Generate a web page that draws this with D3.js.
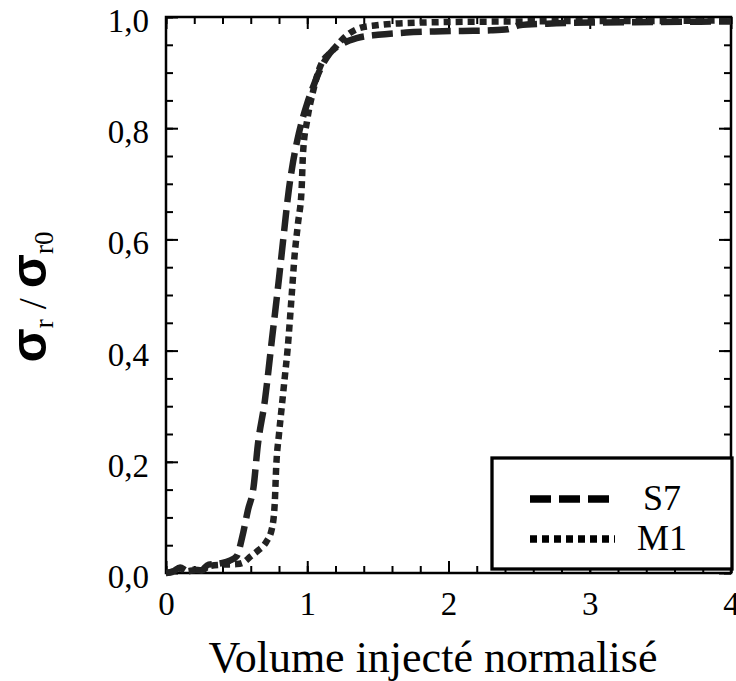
<!DOCTYPE html>
<html lang="fr">
<head>
<meta charset="utf-8">
<title>Volume injecté normalisé</title>
<script src="https://cdnjs.cloudflare.com/ajax/libs/d3/7.8.5/d3.min.js"></script>
<style>
  body { margin: 0; background: #fff; }
  svg text { font-family: "Liberation Serif", "Times New Roman", serif; fill: #000; }
  .axis path { display: none; }
  .axis line { stroke: #000; stroke-width: 2; }
</style>
</head>
<body>
<div id="chart"></div>
<script>
// values
var s7X = [0, 0.05, 0.1, 0.15, 0.2, 0.25, 0.3, 0.35, 0.4, 0.45, 0.5, 0.54, 0.58, 0.62, 0.65, 0.7, 0.75, 0.8, 0.83, 0.87, 0.9, 0.94, 0.97, 1.0, 1.05, 1.1, 1.16, 1.25, 1.35, 1.5, 1.7, 1.9, 2.1, 2.3, 2.42, 2.5, 2.7, 3.0, 3.5, 4.0];
var s7Y = [0, 0.003, 0.01, 0.004, 0.006, 0.005, 0.015, 0.016, 0.018, 0.022, 0.03, 0.065, 0.113, 0.155, 0.23, 0.31, 0.42, 0.53, 0.6, 0.69, 0.74, 0.79, 0.82, 0.845, 0.88, 0.91, 0.935, 0.952, 0.962, 0.968, 0.972, 0.974, 0.975, 0.976, 0.978, 0.985, 0.988, 0.99, 0.991, 0.992];

var m1X = [0, 0.05, 0.1, 0.15, 0.2, 0.25, 0.3, 0.4, 0.5, 0.54, 0.6, 0.65, 0.71, 0.75, 0.77, 0.78, 0.8, 0.82, 0.84, 0.86, 0.89, 0.91, 0.935, 0.96, 0.97, 1.0, 1.04, 1.09, 1.18, 1.28, 1.37, 1.49, 1.61, 1.8, 2.0, 2.5, 3.0, 3.5, 4.0];
var m1Y = [0, 0.002, 0.008, 0.003, 0.005, 0.004, 0.012, 0.015, 0.016, 0.018, 0.03, 0.04, 0.056, 0.08, 0.126, 0.19, 0.25, 0.3, 0.35, 0.4, 0.5, 0.57, 0.63, 0.69, 0.755, 0.815, 0.865, 0.91, 0.94, 0.967, 0.98, 0.985, 0.988, 0.99, 0.991, 0.992, 0.993, 0.993, 0.994];

var xMajor = [0, 1, 2, 3, 4];
var yMajor = [0, 0.2, 0.4, 0.6, 0.8, 1.0];
var seriesNames = ["S7", "M1"];

//dimensions of the svg and of the plot frame
var width = 736, height = 681;
var pLeft = 166, pRight = 731, pTop = 17, pBottom = 573;

var svg = d3.select("#chart").append("svg")
  .attr("width", width)
  .attr("height", height);

var x = d3.scaleLinear().domain([0, 4]).range([pLeft, pRight]);
var y = d3.scaleLinear().domain([0, 1]).range([pBottom, pTop]);

var fr = d3.formatLocale({decimal: ",", thousands: ".", grouping: [3], currency: ["", "€"]}).format(".1f");

// minor ticks
var xMinor = d3.range(0, 4.0001, 0.2);
var yMinor = d3.range(0, 1.0001, 0.05);

function addAxis(axis, tx, ty) {
  return svg.append("g").attr("class", "axis")
    .attr("transform", "translate(" + tx + "," + ty + ")")
    .call(axis);
}

addAxis(d3.axisLeft(y).tickValues(yMinor).tickSize(-7).tickFormat(""), pLeft, 0);
addAxis(d3.axisRight(y).tickValues(yMinor).tickSize(-7).tickFormat(""), pRight, 0);
addAxis(d3.axisBottom(x).tickValues(xMinor).tickSize(-7).tickFormat(""), 0, pBottom);
addAxis(d3.axisTop(x).tickValues(xMinor).tickSize(-7).tickFormat(""), 0, pTop);
addAxis(d3.axisRight(y).tickValues(yMajor).tickSize(-12).tickFormat(""), pRight, 0);
addAxis(d3.axisTop(x).tickValues(xMajor).tickSize(-12).tickFormat(""), 0, pTop);

var yAx = addAxis(d3.axisLeft(y).tickValues(yMajor).tickSize(-12).tickPadding(17).tickFormat(fr), pLeft, 0);
yAx.selectAll("text").attr("font-size", 33).attr("dy", "0.44em");

var xAx = addAxis(d3.axisBottom(x).tickValues(xMajor).tickSize(-12).tickPadding(19).tickFormat(d3.format("d")), 0, pBottom);
xAx.selectAll("text").attr("font-size", 33);

// frame
svg.append("rect")
  .attr("x", pLeft).attr("y", pTop)
  .attr("width", pRight - pLeft).attr("height", pBottom - pTop)
  .attr("fill", "none").attr("stroke", "#000").attr("stroke-width", 2.5);

svg.append("clipPath").attr("id", "clip")
  .append("rect").attr("x", pLeft).attr("y", pTop + 1)
  .attr("width", pRight - pLeft).attr("height", pBottom - pTop + 20);

var line = d3.line()
  .x(function(d) { return x(d[0]); })
  .y(function(d) { return y(d[1]); })
  .curve(d3.curveMonotoneX);

var series = [
  {name: seriesNames[0], pts: d3.zip(s7X, s7Y), dash: "21,8"},
  {name: seriesNames[1], pts: d3.zip(m1X, m1Y), dash: "7,5"}
];

svg.append("g").attr("clip-path", "url(#clip)")
  .selectAll("path")
  .data(series)
  .enter().append("path")
  .attr("d", function(d) { return line(d.pts); })
  .attr("fill", "none")
  .attr("stroke", "#222")
  .attr("stroke-width", 6.5)
  .attr("stroke-dasharray", function(d) { return d.dash; });

// legend
var lg = svg.append("g");
lg.append("rect")
  .attr("x", 492).attr("y", 458).attr("width", 240).attr("height", 111)
  .attr("fill", "#fff").attr("stroke", "#000").attr("stroke-width", 3.3);

series.forEach(function(s, i) {
  var ly = 499 + i * 40;
  lg.append("line")
    .attr("x1", 530).attr("x2", 615)
    .attr("y1", ly).attr("y2", ly)
    .attr("stroke", "#000").attr("stroke-width", 7.5)
    .attr("stroke-dasharray", s.dash);
  lg.append("text")
    .attr("x", i == 0 ? 643 : 637).attr("y", ly + 11)
    .attr("font-size", 36)
    .text(s.name);
});

// axis titles
svg.append("text")
  .attr("x", 433).attr("y", 672)
  .attr("text-anchor", "middle")
  .attr("font-size", 44)
  .text("Volume injecté normalisé");

var yt = svg.append("text")
  .attr("transform", "translate(46,297) rotate(-90)")
  .attr("text-anchor", "middle");
yt.append("tspan").attr("font-family", "Liberation Sans").attr("font-weight", "bold").attr("font-size", 50).text("σ");
yt.append("tspan").attr("font-size", 27).attr("dy", 7).text("r");
yt.append("tspan").attr("font-size", 40).attr("dy", -7).text(" / ");
yt.append("tspan").attr("font-family", "Liberation Sans").attr("font-weight", "bold").attr("font-size", 50).text("σ");
yt.append("tspan").attr("font-size", 27).attr("dy", 7).text("r0");
</script>
</body>
</html>
